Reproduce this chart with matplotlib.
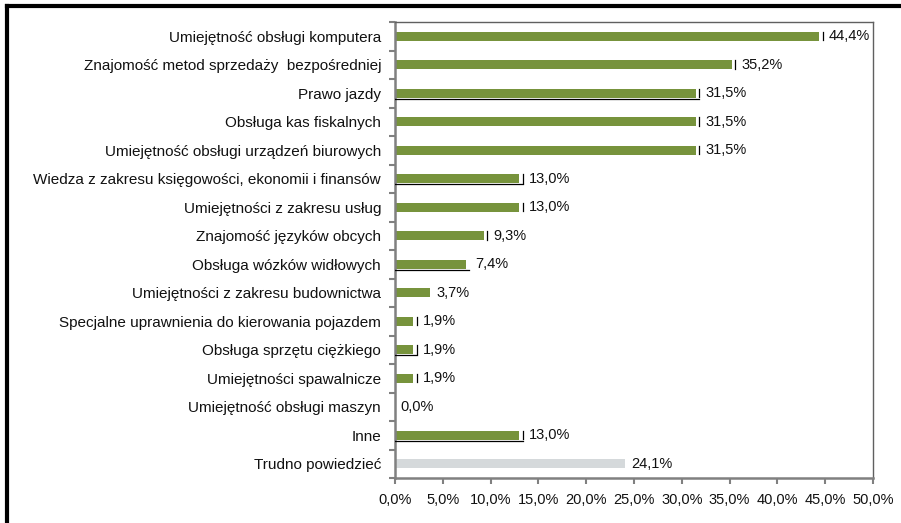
import matplotlib
matplotlib.use("Agg")
import matplotlib.pyplot as plt
from matplotlib.lines import Line2D
from matplotlib.ticker import FixedLocator

plt.rcParams['font.family'] = ['Liberation Sans', 'DejaVu Sans']

categories = [
    "Umiejętność obsługi komputera",
    "Znajomość metod sprzedaży  bezpośredniej",
    "Prawo jazdy",
    "Obsługa kas fiskalnych",
    "Umiejętność obsługi urządzeń biurowych",
    "Wiedza z zakresu księgowości, ekonomii i finansów",
    "Umiejętności z zakresu usług",
    "Znajomość języków obcych",
    "Obsługa wózków widłowych",
    "Umiejętności z zakresu budownictwa",
    "Specjalne uprawnienia do kierowania pojazdem",
    "Obsługa sprzętu ciężkiego",
    "Umiejętności spawalnicze",
    "Umiejętność obsługi maszyn",
    "Inne",
    "Trudno powiedzieć",
]
values = [44.4, 35.2, 31.5, 31.5, 31.5, 13.0, 13.0, 9.3, 7.4, 3.7, 1.9, 1.9, 1.9, 0.0, 13.0, 24.1]
value_labels = ["44,4%", "35,2%", "31,5%", "31,5%", "31,5%", "13,0%", "13,0%", "9,3%",
                "7,4%", "3,7%", "1,9%", "1,9%", "1,9%", "0,0%", "13,0%", "24,1%"]
is_grey = [False] * 15 + [True]
xticks = [0, 5, 10, 15, 20, 25, 30, 35, 40, 45, 50]
xtick_labels = ["0,0%", "5,0%", "10,0%", "15,0%", "20,0%", "25,0%", "30,0%",
                "35,0%", "40,0%", "45,0%", "50,0%"]
# scan artefacts: end marks and underline shadows
end_mark = [True, True, True, True, True, True, True, True, False, False, True, True, True, False, True, False]
underline = [False, False, True, False, False, True, False, False, True, False, False, True, False, False, True, False]

GREEN = "#77933C"
GREY = "#D5D9DB"
FS = 10.5
FS_Y = 11

fig = plt.figure(figsize=(9.01, 5.23), dpi=100)
ax = fig.add_axes([395/901, 1 - 478/523, (873 - 395)/901, (478 - 22)/523])

n = len(categories)
ys = list(range(n))
colors = [GREY if g else GREEN for g in is_grey]
bh = 0.32
ax.barh(ys, values, height=bh, color=colors, edgecolor='none', zorder=2)

for y, v, lab, em, ul in zip(ys, values, value_labels, end_mark, underline):
    if em:
        ax.plot([v + 0.35, v + 0.35], [y - bh/2, y + bh/2 - 0.02], color='black', lw=0.9, zorder=3)
    if ul:
        ax.plot([0, v + 0.35], [y + bh/2 + 0.03, y + bh/2 + 0.03], color='black', lw=0.9, zorder=3)
    off = 1.0 if (em or ul) else 0.6
    ax.text(v + off, y, lab, va='center', ha='left', fontsize=FS, color='#111111')

ax.set_ylim(n - 0.5, -0.5)
ax.set_xlim(0, 50)
ax.set_yticks(ys)
ax.set_yticklabels(categories, fontsize=FS_Y)
ax.yaxis.set_minor_locator(FixedLocator([i - 0.5 for i in range(n + 1)]))
ax.tick_params(axis='y', which='major', length=0, pad=10, labelcolor='#111111')
ax.tick_params(axis='y', which='minor', length=4, width=1.5, color='#808080', direction='out')
ax.set_xticks(xticks)
ax.set_xticklabels(xtick_labels, fontsize=FS)
ax.tick_params(axis='x', which='major', length=4, width=1.5, color='#808080', direction='out',
               pad=7, labelcolor='#111111')

for side in ['left', 'bottom']:
    ax.spines[side].set_color('#808080')
    ax.spines[side].set_linewidth(1.8)
for side in ['top', 'right']:
    ax.spines[side].set_color('#606060')
    ax.spines[side].set_linewidth(1.0)

# outer black frame (left and top edges visible)
fig.add_artist(Line2D([7/901, 7/901], [0, 1 - 6/523], transform=fig.transFigure, color='black', lw=3))
fig.add_artist(Line2D([7/901, 1], [1 - 6/523, 1 - 6/523], transform=fig.transFigure, color='black', lw=3))

fig.savefig("out.png", dpi=100)
